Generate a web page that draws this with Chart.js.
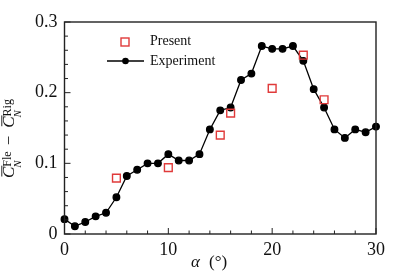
<!DOCTYPE html>
<html>
<head>
<meta charset="utf-8">
<script src="https://cdn.jsdelivr.net/npm/chart.js@4"></script>
<style>
  html, body { margin: 0; padding: 0; background: #fff; }
  #wrap { width: 415px; height: 277px; }
</style>
</head>
<body>
<div id="wrap"><canvas id="chart" width="415" height="277"></canvas></div>
<script>
// experiment data
const alphaExp = [0,1,2,3,4,5,6,7,8,9,10,11,12,13,14,15,16,17,18,19,20,21,22,23,24,25,26,27,28,29,30];
const cnExp = [0.021,0.011,0.017,0.025,0.030,0.052,0.082,0.091,0.100,0.100,0.113,0.104,0.104,0.113,0.148,0.175,0.179,0.218,0.227,0.266,0.262,0.262,0.266,0.245,0.205,0.179,0.148,0.136,0.148,0.144,0.152];
// present results
const alphaPresent = [5,10,15,16,20,23,25];
const cnPresent = [0.079,0.094,0.140,0.171,0.206,0.253,0.190];
// tick labels
const xTicks = [0,10,20,30];
const yTicks = ["0","0.1","0.2","0.3"];

const SERIF = "'Liberation Serif', 'DejaVu Serif', serif";

// box, inward ticks, legend and axis titles
const decor = {
  id: 'decor',
  afterDraw(chart) {
    const ctx = chart.ctx;
    const a = chart.chartArea;
    const xs = chart.scales.x, ys = chart.scales.y;
    ctx.save();
    ctx.strokeStyle = '#222';
    ctx.lineWidth = 1.4;
    ctx.strokeRect(a.left, a.top, a.right - a.left, a.bottom - a.top);

    ctx.lineWidth = 1;
    for (let v = 0; v <= 30; v += 2) {
      const px = xs.getPixelForValue(v);
      const len = v % 10 === 0 ? 6 : 3.5;
      ctx.beginPath(); ctx.moveTo(px, a.bottom); ctx.lineTo(px, a.bottom - len); ctx.stroke();
    }
    for (let i = 0; i <= 15; i++) {
      const v = i * 0.02;
      const py = ys.getPixelForValue(v);
      const len = i % 5 === 0 ? 6 : 3.5;
      ctx.beginPath(); ctx.moveTo(a.left, py); ctx.lineTo(a.left + len, py); ctx.stroke();
    }

    // legend
    ctx.font = '14px ' + SERIF;
    ctx.fillStyle = '#111';
    ctx.textBaseline = 'middle';
    ctx.strokeStyle = '#e03a3a';
    ctx.lineWidth = 1.4;
    ctx.strokeRect(121, 38, 8, 8);
    ctx.fillText('Present', 150, 41);
    ctx.strokeStyle = '#000';
    ctx.lineWidth = 1.3;
    ctx.beginPath(); ctx.moveTo(107, 61); ctx.lineTo(144, 61); ctx.stroke();
    ctx.fillStyle = '#000';
    ctx.beginPath(); ctx.arc(125.5, 61, 3.3, 0, Math.PI * 2); ctx.fill();
    ctx.fillStyle = '#111';
    ctx.fillText('Experiment', 150, 61);

    // x title
    ctx.textBaseline = 'alphabetic';
    ctx.font = 'italic 17px ' + SERIF;
    ctx.fillText('α', 191, 267);
    ctx.font = '17px ' + SERIF;
    ctx.fillText('(°)', 209, 267);

    // y title, rotated (u along the text, v = pixel x)
    ctx.translate(0, 178);
    ctx.rotate(-Math.PI / 2);
    ctx.strokeStyle = '#111';
    let u = 0;
    const part = (sup) => {
      ctx.font = 'italic 17px ' + SERIF;
      const cw = ctx.measureText('C').width;
      ctx.fillText('C', u, 14);
      ctx.lineWidth = 0.9;
      ctx.beginPath(); ctx.moveTo(u + 1.5, 1.8); ctx.lineTo(u + cw + 1, 1.8); ctx.stroke();
      ctx.font = 'italic 11px ' + SERIF;
      ctx.fillText('N', u + cw - 1, 21);
      ctx.font = '12px ' + SERIF;
      ctx.fillText(sup, u + cw, 10.5);
      u += cw + ctx.measureText(sup).width;
    };
    part('Fle');
    ctx.font = '17px ' + SERIF;
    u += 6;
    ctx.fillText('−', u, 14);
    u += ctx.measureText('−').width + 8;
    part('Rig');
    ctx.restore();
  }
};

new Chart(document.getElementById('chart'), {
  type: 'scatter',
  data: {
    datasets: [
      {
        label: 'Experiment',
        data: alphaExp.map((a, i) => ({ x: a, y: cnExp[i] })),
        showLine: true,
        borderColor: '#000',
        borderWidth: 1.3,
        backgroundColor: '#000',
        pointRadius: 3.3,
        pointHoverRadius: 3.3,
        clip: false,
        order: 2
      },
      {
        label: 'Present',
        data: alphaPresent.map((a, i) => ({ x: a, y: cnPresent[i] })),
        showLine: false,
        pointStyle: 'rect',
        pointRadius: 5.5,
        pointHoverRadius: 5.5,
        borderColor: '#e03a3a',
        borderWidth: 1.4,
        backgroundColor: 'rgba(255,255,255,0)',
        clip: false,
        order: 1
      }
    ]
  },
  options: {
    responsive: false,
    animation: false,
    events: [],
    layout: { padding: { top: 22, right: 39, left: 0, bottom: 0 } },
    plugins: { legend: { display: false }, tooltip: { enabled: false } },
    scales: {
      x: {
        type: 'linear', min: 0, max: 30,
        grid: { display: false, drawTicks: false },
        border: { display: false },
        afterBuildTicks: s => { s.ticks = xTicks.map(v => ({ value: v })); },
        ticks: { font: { family: SERIF, size: 18 }, color: '#111', padding: 5, maxRotation: 0,
                 callback: v => String(v) },
        afterFit: s => { s.height = 43; }
      },
      y: {
        type: 'linear', min: 0, max: 0.3,
        grid: { display: false, drawTicks: false },
        border: { display: false },
        afterBuildTicks: s => { s.ticks = yTicks.map(v => ({ value: parseFloat(v) })); },
        ticks: { font: { family: SERIF, size: 18 }, color: '#111', padding: 7,
                 callback: (v, i) => yTicks[i] },
        afterFit: s => { s.width = 64.5; }
      }
    }
  },
  plugins: [decor]
});
</script>
</body>
</html>
